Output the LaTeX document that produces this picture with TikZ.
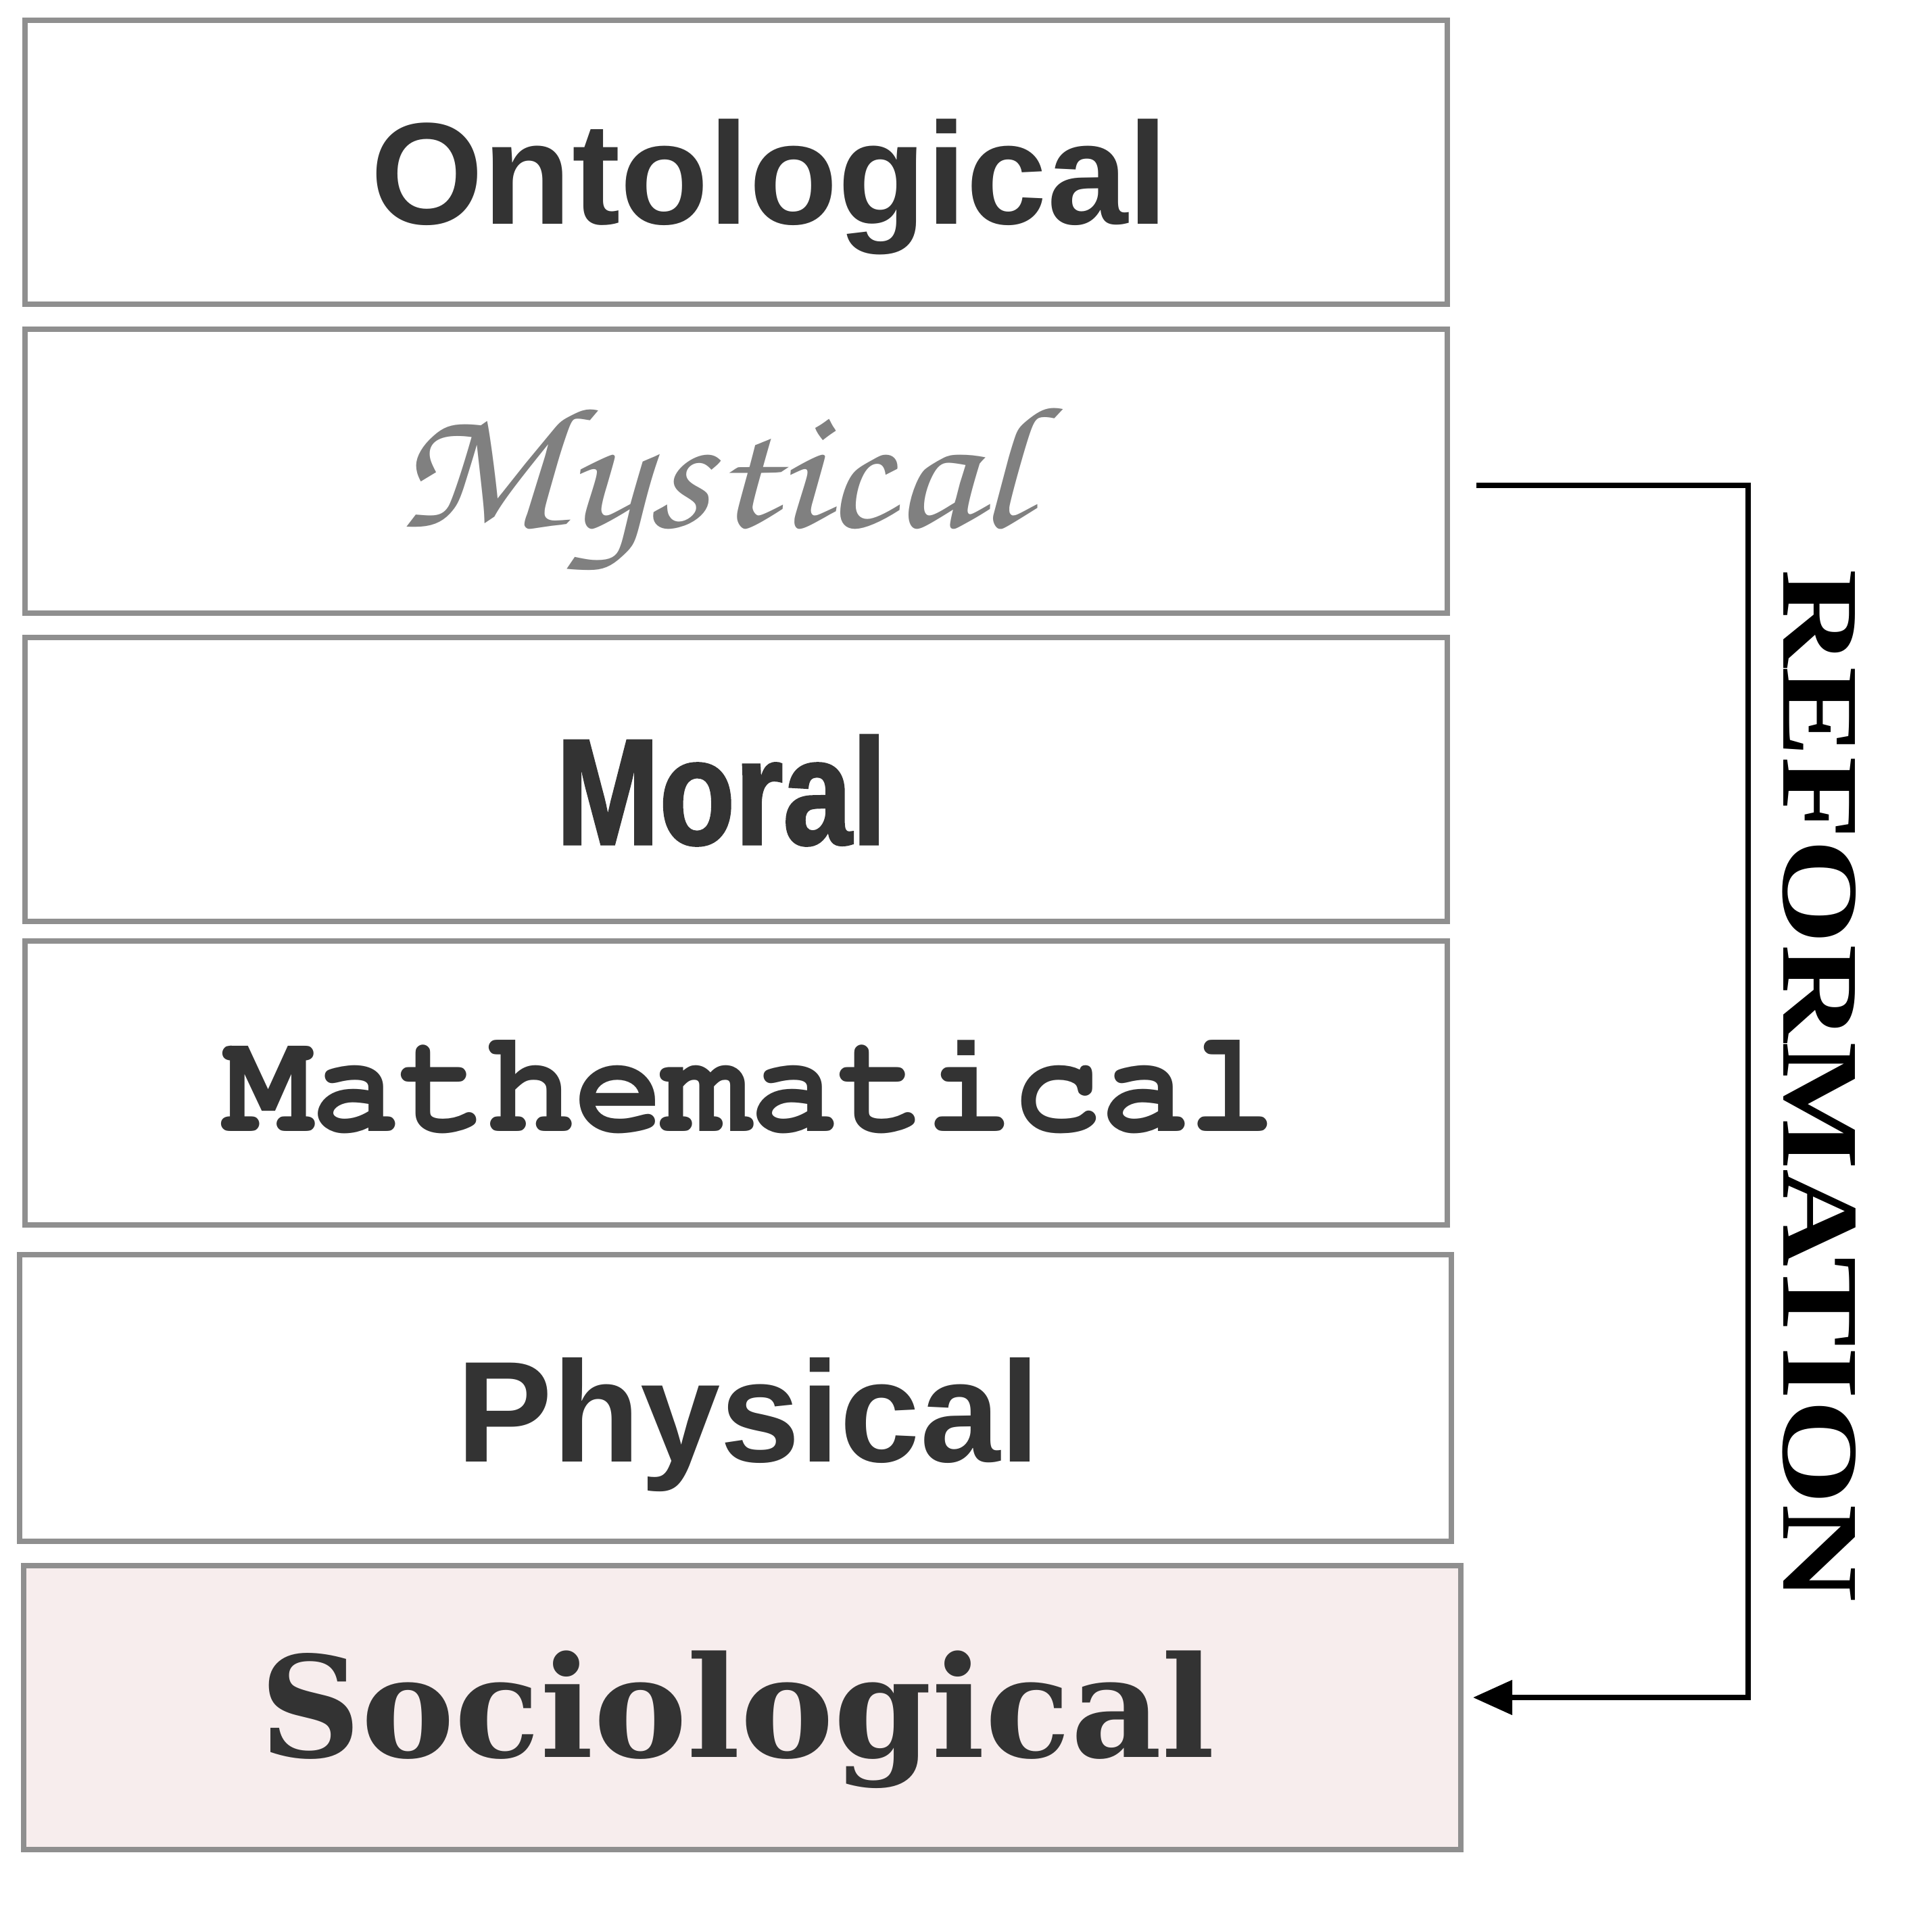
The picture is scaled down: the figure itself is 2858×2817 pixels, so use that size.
\documentclass[tikz,border=0pt]{standalone}
\usepackage[T1,TU]{fontenc}
\usepackage{fontspec}
\usetikzlibrary{arrows.meta}
\setmainfont{Liberation Serif}
\newfontfamily\arialfont{Liberation Sans}
\newfontfamily\moralfont[FakeStretch=0.82,BoldFeatures={FakeBold=1.5}]{Liberation Sans}
\newfontfamily\sociofont{DejaVu Serif}
\newfontfamily\reffont[FakeStretch=1.235]{Liberation Serif}
\newcommand\chancery{\fontencoding{T1}\fontfamily{pzc}\fontseries{mb}\fontshape{it}\selectfont}
\newcommand\courierbold{\fontencoding{T1}\fontfamily{pcr}\fontseries{b}\fontshape{n}\selectfont}
\definecolor{boxgray}{HTML}{8F8F8F}
\definecolor{socpink}{HTML}{F7EDED}
\definecolor{txtgray}{HTML}{333333}
\definecolor{mystgray}{HTML}{808080}
\tikzset{
  layer/.style={draw=boxgray, line width=0.08cm, minimum width=21.02cm, minimum height=4.19cm, inner sep=0},
  lbl/.style={anchor=base, inner sep=0, text=txtgray}
}
\begin{document}
\begin{tikzpicture}[x=0.01cm,y=-0.01cm]
\useasboundingbox (0,0) rectangle (2858,2817);
% the six layers
\node[layer, minimum height=4.2cm] (onto) at (1089,240) {};
\node[layer] (myst) at (1089,697) {};
\node[layer] (moral) at (1089,1153) {};
\node[layer] (math) at (1089,1602) {};
\node[layer, minimum width=21.17cm, minimum height=4.23cm] (phys) at (1088,2068) {};
\node[layer, fill=socpink, minimum width=21.24cm] (socio) at (1098,2526) {};
% labels
\node[lbl, font=\arialfont\bfseries\fontsize{61}{70}\selectfont] (ontotext) at (1138,331) {Ontological};
\node[lbl, text=mystgray, xscale=1.06, yscale=0.92, font=\chancery\fontsize{80}{90}\selectfont] (mysttext) at (1050,779) {Mystical};
\node[lbl, font=\moralfont\bfseries\fontsize{63.5}{70}\selectfont] (moraltext) at (1067,1249) {Moral};
\node[lbl, font=\courierbold\fontsize{61.5}{70}\selectfont] (mathtext) at (1110,1673) {Mathematical};
\node[lbl, font=\arialfont\bfseries\fontsize{60.5}{70}\selectfont] (phystext) at (1107,2162) {Physical};
\node[lbl, font=\sociofont\bfseries\fontsize{59}{70}\selectfont] (sociotext) at (1091,2599) {Sociological};
% reformation arrow
\coordinate (from) at (2184,718);
\coordinate (to) at (2179,2511);
\draw[line width=0.08cm, -{Triangle[length=0.58cm,width=0.5cm]}] (from) -| (2586,2511) -- (to);
\node[rotate=-90, inner sep=0, font=\reffont\bfseries\fontsize{46}{50}\selectfont] (reform) at (2691,1606) {REFORMATION};
\end{tikzpicture}
\end{document}
